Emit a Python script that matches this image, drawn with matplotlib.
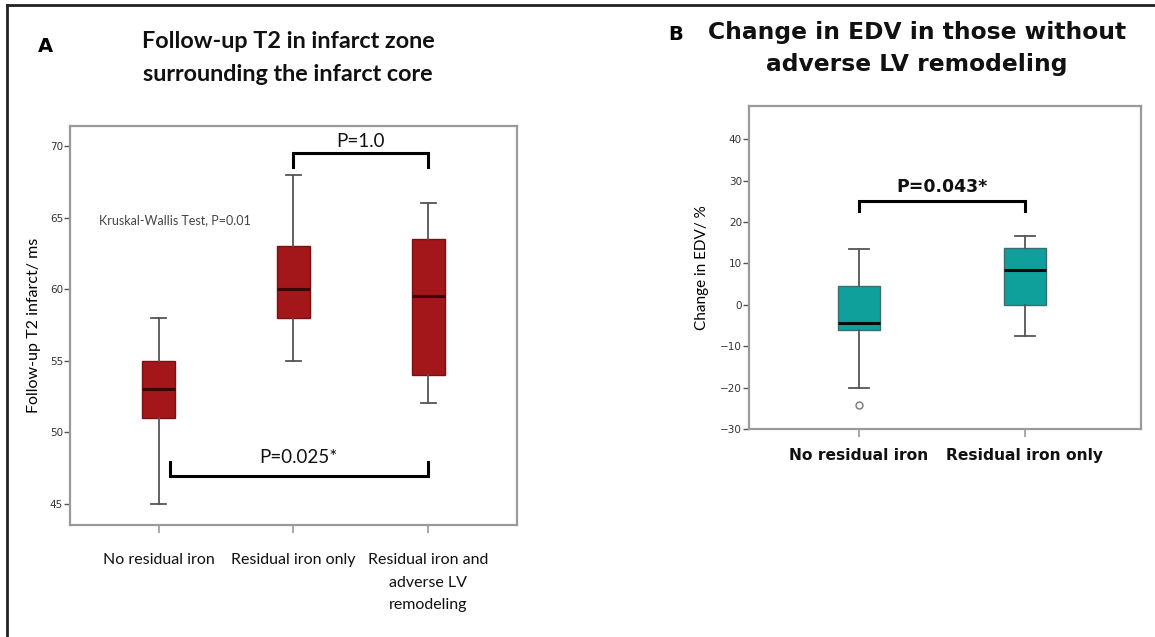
import matplotlib
matplotlib.use('Agg')
import matplotlib.pyplot as plt
from matplotlib.lines import Line2D

# данные панели A (T2 в зоне инфаркта)
groups_a = ['No residual iron', 'Residual iron only', 'Residual iron and\nadverse LV\nremodeling']
med_a = [53, 60, 59.5]
q1_a = [51, 58, 54]
q3_a = [55, 63, 63.5]
lo_a = [45, 55, 52]
hi_a = [58, 68, 66]

# данные панели B (изменение EDV)
groups_b = ['No residual iron', 'Residual iron only']
med_b = [-4.3, 8.4]
q1_b = [-6.2, 0]
q3_b = [4.5, 13.8]
lo_b = [-20, -7.5]
hi_b = [13.5, 16.7]
fliers_b = [[-24.2], []]

# уровни скобок и подписи p
br_a1 = (2, 3, 69.5, 68.5, 'P=1.0')
br_a2 = (1.08, 3, 46.9, 47.9, 'P=0.025*')
br_b = (1, 2, 25.1, 22.6, 'P=0.043*')

red = '#a3161a'
teal = '#10a09b'
gray = '#9a9a9a'

fig = plt.figure(figsize=(11.55, 6.37), dpi=100)

# рамка вокруг рисунка (верх и левый край)
fig.add_artist(Line2D([7/1155, 7/1155], [0, 1 - 5/637], color='#222222', lw=2))
fig.add_artist(Line2D([7/1155, 1], [1 - 5/637, 1 - 5/637], color='#222222', lw=2))


def make_stats(med, q1, q3, lo, hi, fl=None):
    out = []
    for i in range(len(med)):
        out.append(dict(med=med[i], q1=q1[i], q3=q3[i], whislo=lo[i], whishi=hi[i],
                        fliers=fl[i] if fl else []))
    return out


def style_axes(ax, xpad):
    for s in ax.spines.values():
        s.set_color(gray)
        s.set_linewidth(1.6)
    ax.tick_params(axis='y', colors='#555555', labelcolor='#333333', length=4, width=1,
                   labelsize=7.5, pad=1)
    ax.tick_params(axis='x', colors=gray, labelcolor='#111111', length=6, width=1.2, pad=xpad)


def bracket(ax, x1, x2, y_line, y_end, text, ty, fs, family, weight='normal'):
    ax.plot([x1, x1, x2, x2], [y_end, y_line, y_line, y_end], color='black', lw=2.2,
            solid_joinstyle='miter')
    ax.text((x1 + x2) / 2, ty, text, ha='center', va='bottom', fontsize=fs,
            family=family, color='#111111', fontweight=weight)


# ---- панель A ----
ax1 = fig.add_axes([70/1155, 1 - 525/637, 447/1155, 399/637])
ax1.bxp(make_stats(med_a, q1_a, q3_a, lo_a, hi_a), positions=[1, 2, 3], widths=0.245,
        capwidths=0.11, patch_artist=True, showfliers=False,
        boxprops=dict(facecolor=red, edgecolor='#7a1010', linewidth=1),
        medianprops=dict(color='#3a0505', linewidth=2.2),
        whiskerprops=dict(color='#555555', linewidth=1.3),
        capprops=dict(color='#555555', linewidth=1.3))
ax1.set_xlim(0.34, 3.66)
ax1.set_ylim(43.5, 71.4)
ax1.set_yticks([45, 50, 55, 60, 65, 70])
ax1.set_xticks([1, 2, 3])
ax1.set_xticklabels(groups_a, family='Lato', fontsize=11.5, va='top', linespacing=1.8)
style_axes(ax1, 14)
ax1.set_ylabel('Follow-up T2 infarct/ ms', family='Lato', fontsize=11.5, labelpad=6)
ax1.text(0.556, 64.8, 'Kruskal-Wallis Test, P=0.01', family='Lato', fontsize=9,
         color='#444444', va='center')
bracket(ax1, *br_a1[:4], br_a1[4], 69.7, 13.5, 'Lato')
bracket(ax1, *br_a2[:4], br_a2[4], 47.6, 13.5, 'Lato')

fig.text(38/1155, 1 - 46/637, 'A', fontsize=14, fontweight='bold', family='DejaVu Sans',
         va='center', ha='left')
fig.text(288/1155, 1 - 58/637, 'Follow-up T2 in infarct zone\nsurrounding the infarct core',
         ha='center', va='center', fontsize=16.8, family='Lato', fontweight='bold',
         linespacing=1.7, color='#111111')

# ---- панель B ----
ax2 = fig.add_axes([749/1155, 1 - 429/637, 392/1155, 323/637])
ax2.bxp(make_stats(med_b, q1_b, q3_b, lo_b, hi_b, fliers_b), positions=[1, 2], widths=0.255,
        capwidths=0.125, patch_artist=True,
        boxprops=dict(facecolor=teal, edgecolor='#3a6e6c', linewidth=1),
        medianprops=dict(color='#0a0a0a', linewidth=2.2),
        whiskerprops=dict(color='#555555', linewidth=1.3),
        capprops=dict(color='#555555', linewidth=1.3),
        flierprops=dict(marker='o', markersize=5, markerfacecolor='white',
                        markeredgecolor='#777777', markeredgewidth=1))
ax2.set_xlim(0.337, 2.70)
ax2.set_ylim(-30, 48)
ax2.set_yticks([-30, -20, -10, 0, 10, 20, 30, 40])
ax2.set_xticks([1, 2])
ax2.set_xticklabels(groups_b, family='DejaVu Sans', fontsize=11.2, fontweight='bold')
style_axes(ax2, 8)
ax2.set_ylabel('Change in EDV/ %', family='Lato', fontsize=11, labelpad=8)
bracket(ax2, *br_b[:4], br_b[4], 26.2, 12.5, 'DejaVu Sans', 'bold')

fig.text(668/1155, 1 - 34/637, 'B', fontsize=14, fontweight='bold', family='DejaVu Sans',
         va='center', ha='left')
fig.text(917/1155, 1 - 49/637, 'Change in EDV in those without\nadverse LV remodeling',
         ha='center', va='center', fontsize=16.8, family='DejaVu Sans', fontweight='bold',
         linespacing=1.5, color='#111111')

fig.savefig('out.png', dpi=100)
